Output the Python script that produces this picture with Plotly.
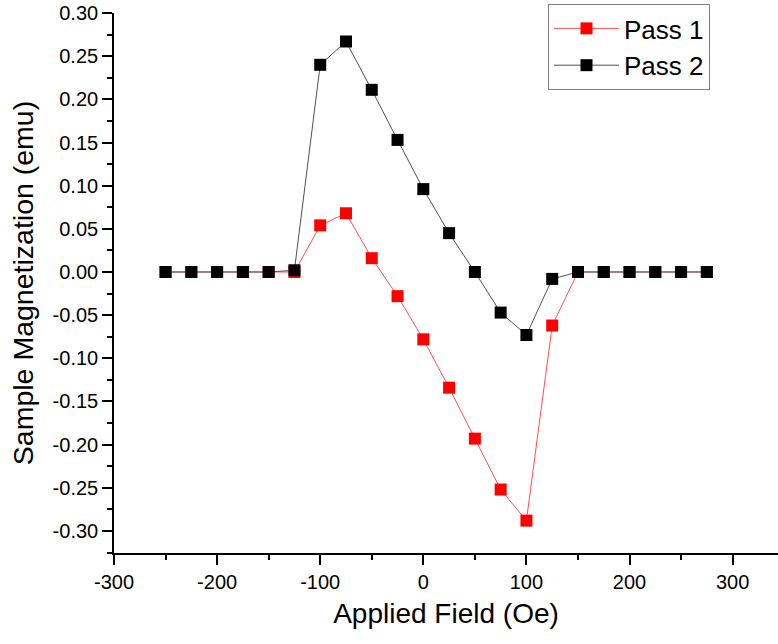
import plotly.graph_objects as go

field = [-250, -225, -200, -175, -150, -125, -100, -75, -50, -25, 0, 25, 50,
         75, 100, 125, 150, 175, 200, 225, 250, 275]
pass1 = [0.0, 0.0, 0.0, 0.0, 0.0, 0.0, 0.054, 0.068, 0.016, -0.028, -0.078,
         -0.134, -0.193, -0.252, -0.288, -0.062, 0.0, 0.0, 0.0, 0.0, 0.0, 0.0]
pass2 = [0.0, 0.0, 0.0, 0.0, 0.0, 0.002, 0.240, 0.267, 0.211, 0.153, 0.096,
         0.045, 0.0, -0.047, -0.073, -0.008, 0.0, 0.0, 0.0, 0.0, 0.0, 0.0]

x_tickvals = [-300, -200, -100, 0, 100, 200, 300]
x_ticktext = ["-300", "-200", "-100", "0", "100", "200", "300"]
y_tickvals = [0.30, 0.25, 0.20, 0.15, 0.10, 0.05, 0.0, -0.05, -0.10, -0.15,
              -0.20, -0.25, -0.30]
y_ticktext = ["0.30", "0.25", "0.20", "0.15", "0.10", "0.05", "0.00", "-0.05",
              "-0.10", "-0.15", "-0.20", "-0.25", "-0.30"]

FONT = "Liberation Sans, Arial, sans-serif"

fig = go.Figure()
fig.add_trace(go.Scatter(
    x=field, y=pass1, name="Pass 1", mode="lines+markers",
    line=dict(color="#ff5050", width=1),
    marker=dict(symbol="square", size=12, color="#ff0000", line=dict(width=0)),
))
fig.add_trace(go.Scatter(
    x=field, y=pass2, name="Pass 2", mode="lines+markers",
    line=dict(color="#505050", width=1),
    marker=dict(symbol="square", size=12, color="#000000", line=dict(width=0)),
))

axis_common = dict(
    showgrid=False, zeroline=False, showline=True, linecolor="black",
    linewidth=1.6, ticks="outside", ticklen=10, tickwidth=1.6,
    tickcolor="black", mirror=False, automargin=False,
    ticklabeloverflow="allow",
    tickfont=dict(family=FONT, size=20, color="black"),
)

fig.update_layout(
    width=778, height=644,
    margin=dict(l=114, r=0, t=13, b=91),
    paper_bgcolor="white", plot_bgcolor="white",
    font=dict(family=FONT, color="black"),
    xaxis=dict(
        range=[-300, 344], tickvals=x_tickvals, ticktext=x_ticktext,
        minor=dict(ticks="outside", ticklen=5, tickwidth=1.6, dtick=50,
                   tick0=-300, tickcolor="black", showgrid=False),
        title=dict(text="Applied Field (Oe)", font=dict(family=FONT, size=28),
                   standoff=12),
        **axis_common,
    ),
    yaxis=dict(
        range=[-0.3255, 0.30], tickvals=y_tickvals, ticktext=y_ticktext,
        minor=dict(ticks="outside", ticklen=5, tickwidth=1.6, dtick=0.025,
                   tick0=0, tickcolor="black", showgrid=False),
        title=dict(text="Sample Magnetization (emu)",
                   font=dict(family=FONT, size=28.5), standoff=11),
        **axis_common,
    ),
    legend=dict(
        x=0.6536, y=1.0167, xanchor="left", yanchor="top",
        bordercolor="#808080", borderwidth=1, bgcolor="white",
        font=dict(family=FONT, size=26, color="black"),
        itemwidth=65, tracegroupgap=0,
    ),
    showlegend=True,
)

fig.write_html("out.html", config={"displayModeBar": False},
               post_script="document.body.style.margin='0px';")
